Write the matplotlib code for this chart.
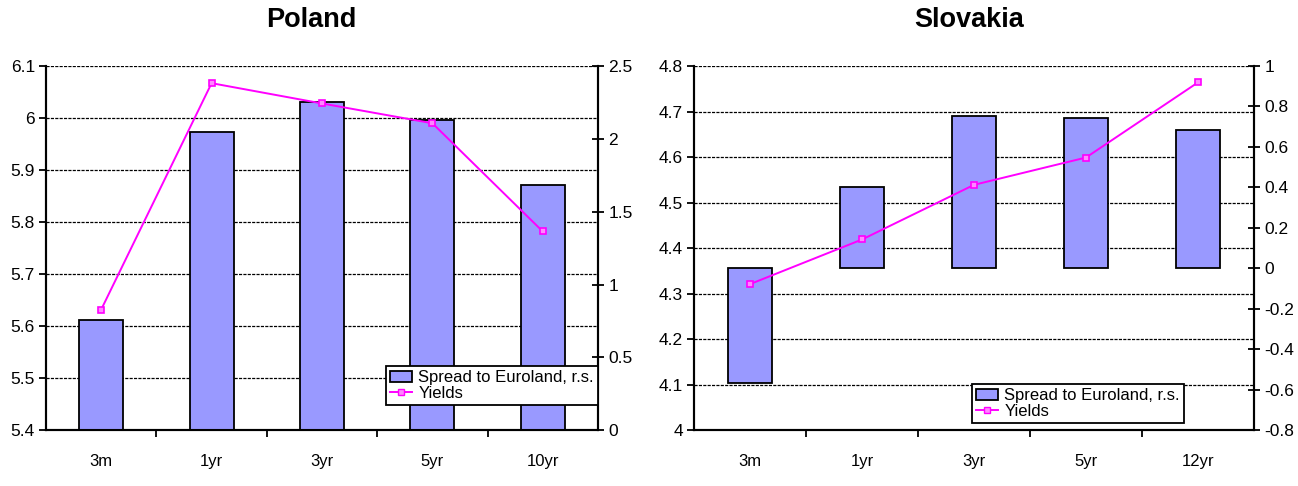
import matplotlib
matplotlib.use("Agg")
from matplotlib import pyplot as plt
from matplotlib.patches import Patch
from matplotlib.lines import Line2D

plt.rcParams['font.family'] = ['Liberation Sans', 'DejaVu Sans']

# Poland
pl_tenors = ['3m', '1yr', '3yr', '5yr', '10yr']
pl_yields = [5.632, 6.067, 6.028, 5.990, 5.782]
pl_spread = [0.754, 2.044, 2.25, 2.126, 1.684]

# Slovakia
sk_tenors = ['3m', '1yr', '3yr', '5yr', '12yr']
sk_yields = [4.321, 4.419, 4.539, 4.599, 4.764]
sk_spread = [-0.566, 0.401, 0.755, 0.745, 0.686]

BAR_COLOR = '#9999ff'
LINE_COLOR = '#ff00ff'

fig = plt.figure(figsize=(12.98, 4.86), dpi=100)


def draw_panel(rect, title, title_x, tenors, yields, spread,
               ylim, yticks, ylabels, slim, sticks, slabels, legend_xy):
    ax_y = fig.add_axes(rect)
    ax_s = ax_y.twinx()
    x = list(range(len(tenors)))

    # yields axis (left) carries the dashed gridlines
    ax_y.set_ylim(*ylim)
    ax_y.set_yticks(yticks)
    ax_y.set_yticklabels(ylabels)
    for v in yticks[1:]:
        ax_y.axhline(v, color='black', lw=0.9, ls=(0, (2.5, 1)), zorder=0)
    ax_y.tick_params(axis='y', direction='out', length=5, width=1.3, labelsize=12.5, pad=3)

    # spread bars on the right axis
    ax_s.bar(x, spread, width=0.4, color=BAR_COLOR, edgecolor='black', linewidth=1.3, zorder=2)
    # yields line drawn above the bars, in left-axis coordinates
    ax_s.plot(x, yields, color=LINE_COLOR, lw=1.4, marker='s', ms=5,
              mfc='#ff88ff', mec=LINE_COLOR, mew=1.2, zorder=3,
              transform=ax_y.transData)
    ax_s.set_ylim(*slim)
    ax_s.set_yticks(sticks)
    ax_s.set_yticklabels(slabels)
    ax_s.tick_params(axis='y', direction='inout', length=9, width=1.3, labelsize=12.5, pad=3)

    for a in (ax_y, ax_s):
        a.set_xlim(-0.5, len(tenors) - 0.5)
        a.spines['top'].set_visible(False)
        for s in ('left', 'right', 'bottom'):
            a.spines[s].set_linewidth(1.5)

    ax_y.set_xticks(x)
    ax_y.set_xticklabels(tenors)
    ax_y.set_xticks([i + 0.5 for i in x[:-1]], minor=True)
    ax_y.tick_params(axis='x', which='major', length=0, labelsize=12, pad=17)
    ax_y.tick_params(axis='x', which='minor', direction='out', length=5, width=1.3)

    fig.text(title_x, 0.958, title, ha='center', va='center',
             fontsize=19.5, fontweight='bold')

    handles = [Patch(facecolor=BAR_COLOR, edgecolor='black', linewidth=1.3),
               Line2D([], [], color=LINE_COLOR, lw=1.4, marker='s', ms=5,
                      mfc='#ff88ff', mec=LINE_COLOR)]
    leg = ax_s.legend(handles, ['Spread to Euroland, r.s.', 'Yields'],
                      loc='upper left', bbox_to_anchor=legend_xy,
                      bbox_transform=fig.transFigure, fontsize=12,
                      frameon=True, fancybox=False, framealpha=1,
                      edgecolor='black', borderpad=0.25, labelspacing=0.05,
                      handlelength=1.3, handleheight=0.6, handletextpad=0.4,
                      borderaxespad=0)
    leg.get_frame().set_linewidth(1.3)
    leg.set_zorder(5)


draw_panel([46 / 1298, 1 - 430.3 / 486, 552 / 1298, 364.3 / 486],
           'Poland', 311 / 1298, pl_tenors, pl_yields, pl_spread,
           (5.4, 6.1), [5.4, 5.5, 5.6, 5.7, 5.8, 5.9, 6.0, 6.1],
           ['5.4', '5.5', '5.6', '5.7', '5.8', '5.9', '6', '6.1'],
           (0, 2.5), [0, 0.5, 1, 1.5, 2, 2.5],
           ['0', '0.5', '1', '1.5', '2', '2.5'],
           (386 / 1298, 1 - 366 / 486))

draw_panel([694 / 1298, 1 - 430.3 / 486, 560 / 1298, 364.3 / 486],
           'Slovakia', 969 / 1298, sk_tenors, sk_yields, sk_spread,
           (4.0, 4.8), [4.0, 4.1, 4.2, 4.3, 4.4, 4.5, 4.6, 4.7, 4.8],
           ['4', '4.1', '4.2', '4.3', '4.4', '4.5', '4.6', '4.7', '4.8'],
           (-0.8, 1.0), [-0.8, -0.6, -0.4, -0.2, 0, 0.2, 0.4, 0.6, 0.8, 1.0],
           ['-0.8', '-0.6', '-0.4', '-0.2', '0', '0.2', '0.4', '0.6', '0.8', '1'],
           (972 / 1298, 1 - 384 / 486))

fig.savefig('out.png', dpi=100)
